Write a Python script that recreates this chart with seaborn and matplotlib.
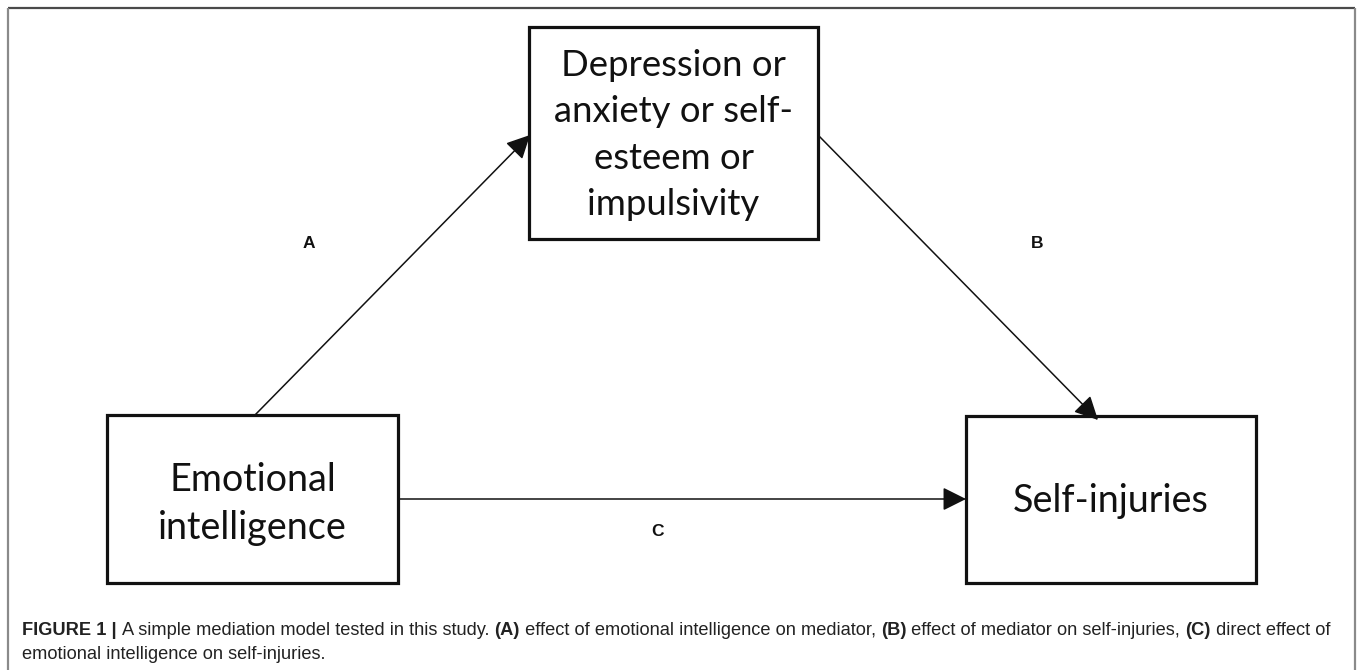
"""
Mediation model diagram (Figure 1) redrawn with seaborn / matplotlib
"""
import matplotlib
matplotlib.use("Agg")
import matplotlib.pyplot as plt
import matplotlib.patches as mpatches
from matplotlib import font_manager
import seaborn as sns

# Diagram content
node_names = ["mediator", "predictor", "outcome"]
node_labels = [
    "Depression or\nanxiety or self-\nesteem or\nimpulsivity",
    "Emotional\nintelligence",
    "Self-injuries",
]
path_names = ["A", "B", "C"]
path_edges = [("predictor", "mediator"), ("mediator", "outcome"), ("predictor", "outcome")]

caption_line1 = [
    ("FIGURE 1 | ", "bold"),
    ("A simple mediation model tested in this study. ", "normal"),
    ("(A)", "bold"),
    (" effect of emotional intelligence on mediator, ", "normal"),
    ("(B)", "bold"),
    (" effect of mediator on self-injuries, ", "normal"),
    ("(C)", "bold"),
    (" direct effect of", "normal"),
]
caption_line2 = "emotional intelligence on self-injuries."

sns.set_theme(style="white")
available = {f.name for f in font_manager.fontManager.ttflist}
box_font = "Lato" if "Lato" in available else "DejaVu Sans"
cap_font = "Liberation Sans Narrow" if "Liberation Sans Narrow" in available else "Liberation Sans"
plt.rcParams["font.family"] = [box_font, "DejaVu Sans"]

W, H = 1358, 670
fig = plt.figure(figsize=(W / 100, H / 100), dpi=100)
ax = fig.add_axes([0, 0, 1, 1])
ax.set_xlim(0, W)
ax.set_ylim(H, 0)
ax.axis("off")

# box geometry (pixel coordinates, y downwards)
boxes = {
    "mediator": (529, 27, 818, 239),
    "predictor": (107, 415, 398, 583),
    "outcome": (966, 416, 1256, 583),
}
text_y = {"mediator": 135, "predictor": 504, "outcome": 501}
text_size = {"mediator": 26.3, "predictor": 27.2, "outcome": 27.2}
text_spacing = {"mediator": 1.5, "predictor": 1.4, "outcome": 1.4}

for name, label in zip(node_names, node_labels):
    x0, y0, x1, y1 = boxes[name]
    ax.add_patch(mpatches.Rectangle((x0, y0), x1 - x0, y1 - y0, fill=False,
                                    edgecolor="#111111", linewidth=2.3))
    ax.text((x0 + x1) / 2, text_y[name], label, ha="center", va="center",
            fontsize=text_size[name], color="#111111",
            linespacing=text_spacing[name], family=box_font)

# arrows: start / end points on box borders
arrow_pts = {
    "A": ((255, 415), (530, 135)),
    "B": ((818, 135), (1098, 420)),
    "C": ((398, 499), (966, 499)),
}
label_pos = {"A": (309, 244), "B": (1037, 244), "C": (658, 532)}

for p in path_names:
    (sx, sy), (ex, ey) = arrow_pts[p]
    ax.annotate("", xy=(ex, ey), xytext=(sx, sy),
                arrowprops=dict(arrowstyle="-|>,head_length=0.9,head_width=0.45",
                                color="#111111", lw=1.1, shrinkA=0, shrinkB=0,
                                mutation_scale=16))
    lx, ly = label_pos[p]
    ax.text(lx, ly, p, ha="center", va="center", fontsize=12.5,
            fontweight="bold", color="#111111", family="Liberation Sans")

# outer frame (open at the bottom)
ax.plot([8, 1355], [8, 8], color="#4a4a4a", lw=1.6, solid_capstyle="butt")
ax.plot([8, 8], [8, H], color="#8a8a8a", lw=1.6, solid_capstyle="butt")
ax.plot([1355, 1355], [8, H], color="#8a8a8a", lw=1.6, solid_capstyle="butt")

# caption, fitted to the width of the reference line
renderer = fig.canvas.get_renderer()
x_start, target_w = 22, 1312


def draw_line1(size):
    x = x_start
    items = []
    for s, w in caption_line1:
        t = ax.text(x, 635, s, fontsize=size, fontweight=w, family=cap_font,
                    color="#222222", ha="left", va="baseline")
        x += t.get_window_extent(renderer).width
        items.append(t)
    return items, x - x_start


items, width = draw_line1(10)
for t in items:
    t.remove()
cap_size = 10 * target_w / width
draw_line1(cap_size)
ax.text(x_start, 659, caption_line2, fontsize=cap_size, family=cap_font,
        color="#222222", ha="left", va="baseline")

fig.savefig("out.png", dpi=100, facecolor="white")
